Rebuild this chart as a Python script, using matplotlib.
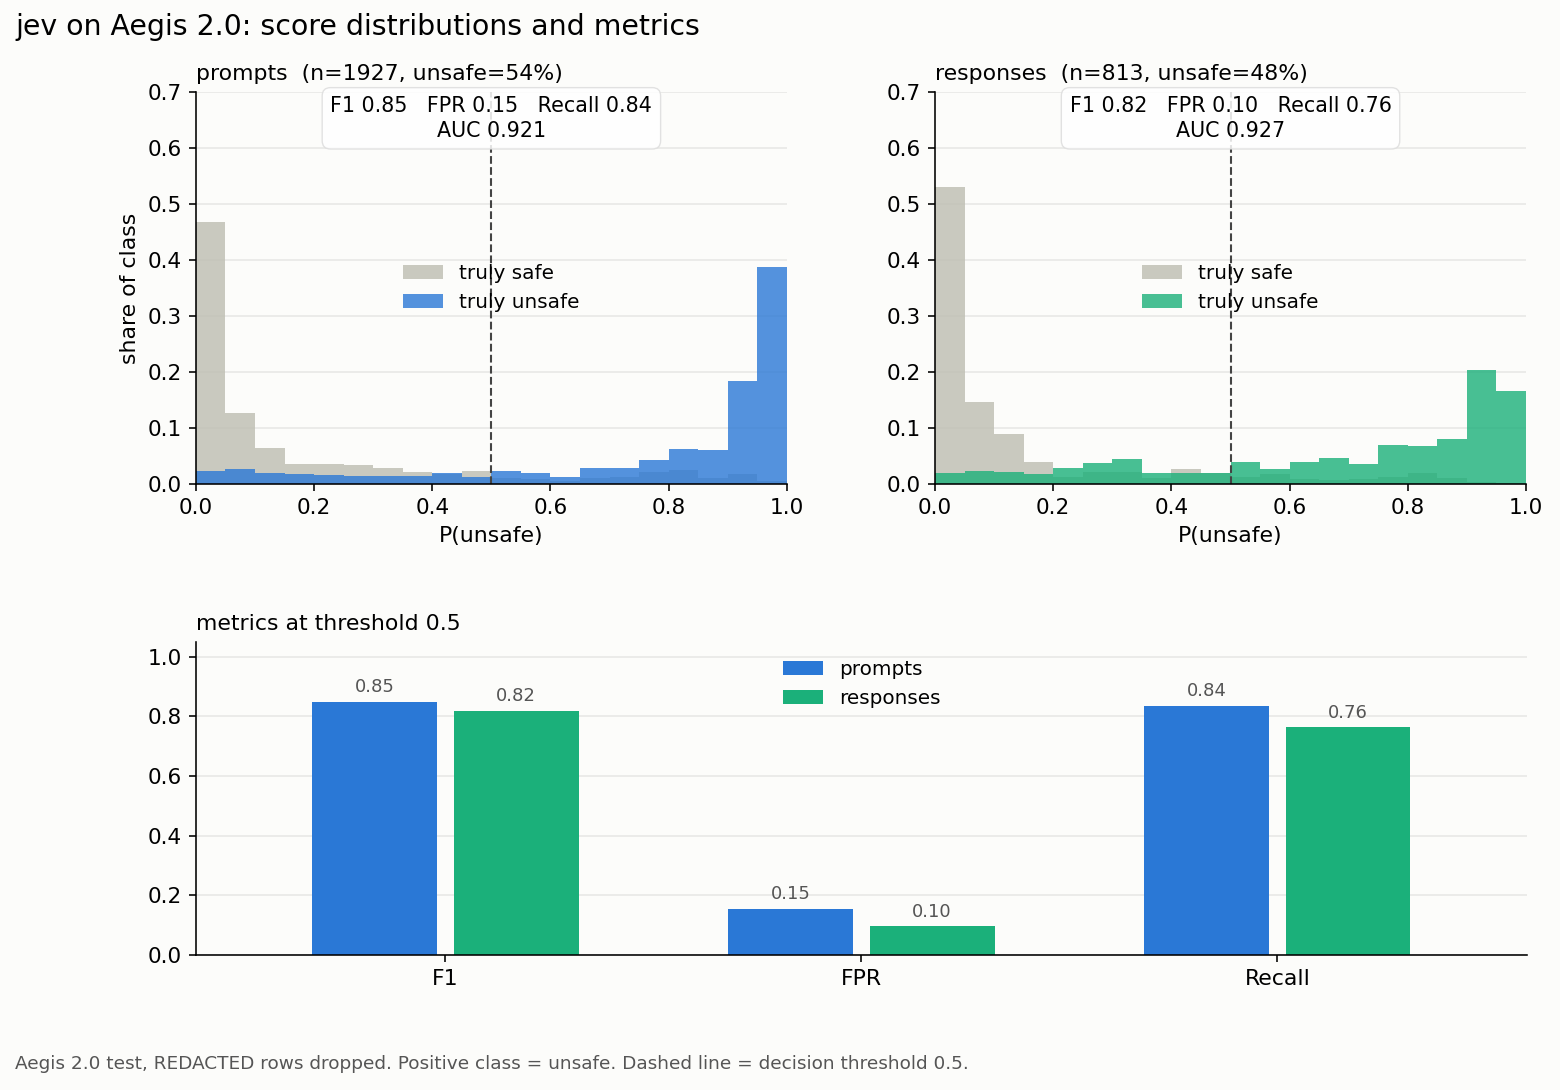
import numpy as np
import matplotlib
matplotlib.use('Agg')
import matplotlib.pyplot as plt

# histogram bins (20 bins of width 0.05), share of each class
edges = np.linspace(0, 1, 21)

prompt_safe = [0.467, 0.127, 0.065, 0.036, 0.035, 0.034, 0.028, 0.021, 0.018, 0.023,
               0.010, 0.008, 0.006, 0.010, 0.013, 0.022, 0.025, 0.010, 0.018, 0.005]
prompt_unsafe = [0.023, 0.027, 0.019, 0.017, 0.016, 0.015, 0.015, 0.014, 0.019, 0.013,
                 0.024, 0.019, 0.013, 0.028, 0.029, 0.042, 0.063, 0.060, 0.183, 0.387]
resp_safe = [0.530, 0.147, 0.089, 0.039, 0.013, 0.021, 0.022, 0.010, 0.027, 0.019,
             0.013, 0.018, 0.008, 0.007, 0.009, 0.013, 0.020, 0.011, 0.003, 0.002]
resp_unsafe = [0.019, 0.024, 0.021, 0.017, 0.028, 0.037, 0.044, 0.019, 0.019, 0.019,
               0.039, 0.027, 0.039, 0.047, 0.036, 0.069, 0.067, 0.080, 0.204, 0.166]

metrics = ['F1', 'FPR', 'Recall']
prompt_metrics = [0.849, 0.154, 0.836]
resp_metrics = [0.819, 0.096, 0.763]
auc = {'prompts': 0.921, 'responses': 0.927}
counts = {'prompts': (1927, 54), 'responses': (813, 48)}
threshold = 0.5

BG = '#fcfcfa'
BLUE = '#2a78d6'
GREEN = '#1bb07a'
GRAY = '#bdbdb1'

# everything is scaled up ~1.44x from matplotlib defaults
k = 1.44
plt.rcParams['font.family'] = 'DejaVu Sans'
plt.rcParams['xtick.labelsize'] = 15.6
plt.rcParams['ytick.labelsize'] = 15.6
for a in ['xtick', 'ytick']:
    plt.rcParams[a + '.major.size'] = 3.5 * k
    plt.rcParams[a + '.major.pad'] = 3.5 * k
    plt.rcParams[a + '.major.width'] = 0.8 * k
plt.rcParams['axes.linewidth'] = 0.8 * k
plt.rcParams['axes.labelpad'] = 4 * k

fig = plt.figure(figsize=(15.6, 10.9), dpi=100, facecolor=BG)
ax1 = fig.add_axes([0.1256, 0.556, 0.3788, 0.3596])
ax2 = fig.add_axes([0.5994, 0.556, 0.3788, 0.3596])
ax3 = fig.add_axes([0.1256, 0.1239, 0.8532, 0.2872])


def style(ax):
    ax.set_facecolor(BG)
    for s in ['top', 'right']:
        ax.spines[s].set_visible(False)
    ax.grid(axis='y', color='#e6e6e4', lw=1.1)
    ax.set_axisbelow(True)


panels = [
    (ax1, 'prompts', prompt_safe, prompt_unsafe, prompt_metrics, BLUE),
    (ax2, 'responses', resp_safe, resp_unsafe, resp_metrics, GREEN),
]
for ax, name, safe, unsafe, m, col in panels:
    style(ax)
    ax.bar(edges[:-1], safe, width=0.05, align='edge', color=GRAY, alpha=0.8,
           label='truly safe')
    ax.bar(edges[:-1], unsafe, width=0.05, align='edge', color=col, alpha=0.8,
           label='truly unsafe')
    ax.axvline(threshold, color='#444444', ls='--', lw=1.5)
    ax.set_xlim(0, 1)
    ax.set_ylim(0, 0.7)
    n, pct = counts[name]
    ax.set_title(f'{name}  (n={n}, unsafe={pct}%)', loc='left', fontsize=15.8, pad=6 * k)
    ax.set_xlabel('P(unsafe)', fontsize=15.8)
    ax.legend(loc='center', frameon=False, fontsize=14.4)
    txt = f'F1 {m[0]:.2f}   FPR {m[1]:.2f}   Recall {m[2]:.2f}\nAUC {auc[name]:.3f}'
    ax.text(0.5, 0.99, txt, transform=ax.transAxes, ha='center', va='top',
            fontsize=14.9, linespacing=1.3,
            bbox=dict(boxstyle='round,pad=0.4', fc='white', ec='#dddddd', alpha=0.85))
ax1.set_ylabel('share of class', fontsize=15.8)

style(ax3)
x = np.arange(len(metrics))
b1 = ax3.bar(x - 0.17, prompt_metrics, width=0.3, color=BLUE, label='prompts')
b2 = ax3.bar(x + 0.17, resp_metrics, width=0.3, color=GREEN, label='responses')
for b in (b1, b2):
    ax3.bar_label(b, fmt='%.2f', padding=4, fontsize=13, color='#555555')
ax3.set_xticks(x)
ax3.set_xticklabels(metrics, fontsize=15.8)
ax3.set_xlim(-0.6, 2.6)
ax3.set_ylim(0, 1.05)
ax3.set_title(f'metrics at threshold {threshold}', loc='left', fontsize=15.8, pad=6 * k)
ax3.legend(loc='upper center', frameon=False, fontsize=14.4)

fig.text(0.0096, 0.975, 'jev on Aegis 2.0: score distributions and metrics',
         fontsize=20.45, va='center', ha='left')
fig.text(0.0096, 0.024, 'Aegis 2.0 test, REDACTED rows dropped. Positive class = unsafe. '
         'Dashed line = decision threshold 0.5.', fontsize=13.3, color='#555555',
         va='center', ha='left')

fig.savefig('out.png', dpi=100, facecolor=BG)
